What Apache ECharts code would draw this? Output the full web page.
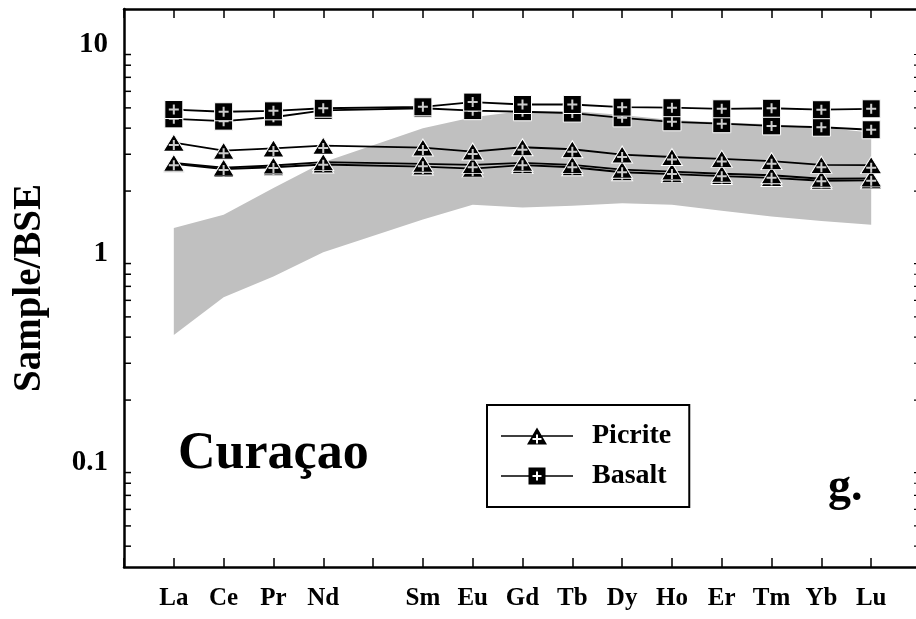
<!DOCTYPE html>
<html><head><meta charset="utf-8">
<script src="https://cdn.jsdelivr.net/npm/echarts@6/dist/echarts.min.js"></script>
<style>html,body{margin:0;padding:0;background:#fff}#c{width:916px;height:619px}</style>
</head><body><div id="c"></div>
<script>
// x categories (padding slots at both ends; Pm is an unlabeled slot)
const categories = ['', 'La','Ce','Pr','Nd','Pm','Sm','Eu','Gd','Tb','Dy','Ho','Er','Tm','Yb','Lu', ''];
const hiddenLabels = ['Pm'];
// values for La..Lu (null = Pm, not measured)
const picriteUpper = [3.41,3.12,3.20,3.30,null,3.23,3.09,3.24,3.17,2.99,2.91,2.85,2.78,2.67,2.66];
const picriteLower = [2.73,2.59,2.65,2.75,null,2.70,2.67,2.73,2.67,2.53,2.48,2.42,2.38,2.29,2.30];
const picriteLowest = [2.70,2.55,2.60,2.68,null,2.62,2.56,2.66,2.60,2.46,2.41,2.36,2.31,2.24,2.25];
const basaltUpper = [4.91,4.79,4.84,4.98,null,5.06,5.33,5.19,5.19,5.04,5.01,4.95,4.98,4.90,4.95];
const basaltLower = [4.43,4.32,4.51,4.86,null,4.98,4.85,4.79,4.72,4.48,4.29,4.20,4.10,4.04,3.93];
// grey field (upper and lower envelope)
const fieldUpper = [1.33,1.54,2.07,2.75,null,3.99,4.51,4.83,4.83,4.62,4.38,4.26,4.17,4.03,3.81];
const fieldLower = [0.41,0.62,0.78,1.02,null,1.46,1.72,1.67,1.70,1.75,1.72,1.61,1.51,1.44,1.38];
// y axis
const yMin = 0.0318, yMax = 14.86;
const minorTickValues = [0.04,0.05,0.06,0.07,0.08,0.09,0.2,0.3,0.4,0.5,0.6,0.7,0.8,0.9,2,3,4,5,6,7,8,9];

const FONT = 'Liberation Serif';
const triIcon = 'path://M0,7.75 L31.44,7.75 L36,0 L40.56,7.75 L72,7.75 L72,9.25 L41.44,9.25 L46,17 L26,17 L30.56,9.25 L0,9.25 Z M35,7 L35,10.5 L31.5,10.5 L31.5,12.5 L35,12.5 L35,16 L37,16 L37,12.5 L40.5,12.5 L40.5,10.5 L37,10.5 L37,7 Z';
const sqIcon = 'path://M0,7.75 L27.5,7.75 L27.5,0 L44.5,0 L44.5,7.75 L72,7.75 L72,9.25 L44.5,9.25 L44.5,17 L27.5,17 L27.5,9.25 L0,9.25 Z M35,4 L35,7.5 L31.5,7.5 L31.5,9.5 L35,9.5 L35,13 L37,13 L37,9.5 L40.5,9.5 L40.5,7.5 L37,7.5 L37,4 Z';
const plusPath = 'path://M4,0 L6,0 L6,4 L10,4 L10,6 L6,6 L6,10 L4,10 L4,6 L0,6 L0,4 L4,4 Z';

function pts(vals) {
  const out = [];
  vals.forEach((v, i) => { if (v != null) out.push([i + 1, v]); });
  return out;
}
function lineSeries(name, vals, kind) {
  const tri = kind === 'tri';
  return [{
    name: name, type: 'line', data: pts(vals), z: 3,
    symbol: tri ? 'triangle' : 'rect', symbolSize: tri ? [21, 17] : [18, 18],
    itemStyle: { color: '#000', borderColor: '#fff', borderWidth: 1 },
    lineStyle: { color: '#000', width: 1.8 }, showSymbol: true, connectNulls: true
  }, {
    name: name + ' marks', type: 'scatter', data: pts(vals), z: 3, silent: true,
    symbol: plusPath, symbolSize: 10, symbolOffset: tri ? [0, 2.5] : [0, 0],
    itemStyle: { color: '#fff' }
  }];
}

const chart = echarts.init(document.getElementById('c'));
const axisLine = { show: true, lineStyle: { color: '#000', width: 2.5 } };
const tickStyle = { color: '#000', width: 1.5 };

chart.setOption({
  animation: false,
  backgroundColor: '#fff',
  grid: { left: 124, top: 9, right: -5, bottom: 52, containLabel: false, outerBoundsMode: 'none' },
  xAxis: [{
    type: 'category', data: categories, boundaryGap: false, position: 'bottom',
    axisLine: axisLine,
    axisTick: { inside: true, length: 9, interval: 0, lineStyle: tickStyle },
    axisLabel: { interval: 0, margin: 19, color: '#000', fontFamily: FONT, fontWeight: 'bold', fontSize: 25,
      formatter: v => hiddenLabels.includes(v) ? '' : v },
    splitLine: { show: false }
  }, {
    type: 'category', data: categories, boundaryGap: false, position: 'top',
    axisLine: axisLine,
    axisTick: { inside: true, length: 9, interval: 0, lineStyle: tickStyle },
    axisLabel: { show: false }, splitLine: { show: false }
  }],
  yAxis: [{
    type: 'log', logBase: 10, min: yMin, max: yMax, position: 'left',
    axisLine: axisLine,
    axisTick: { inside: true, length: 9, lineStyle: tickStyle },
    axisLabel: { margin: 16, color: '#000', fontFamily: FONT, fontWeight: 'bold', fontSize: 29,
      showMinLabel: false, showMaxLabel: false,
      formatter: v => v >= 1 ? Math.round(v).toString() : String(Number(v.toPrecision(2))) },
    splitLine: { show: false },
    name: 'Sample/BSE', nameLocation: 'middle', nameGap: 75,
    nameTextStyle: { color: '#000', fontFamily: FONT, fontWeight: 'bold', fontSize: 39 }
  }, {
    type: 'log', logBase: 10, min: yMin, max: yMax, position: 'right',
    axisLine: axisLine,
    axisTick: { inside: true, length: 8, lineStyle: tickStyle },
    axisLabel: { show: false }, splitLine: { show: false }
  }],
  legend: {
    orient: 'vertical', left: 487, top: 405,
    data: [{ name: 'Picrite', icon: triIcon }, { name: 'Basalt', icon: sqIcon }],
    itemWidth: 72, itemHeight: 17, itemGap: 12,
    padding: [17, 18, 17, 14],
    borderColor: '#000', borderWidth: 2, backgroundColor: '#fff',
    itemStyle: { color: '#000', borderWidth: 0 },
    textStyle: { fontFamily: FONT, fontWeight: 'bold', fontSize: 28, color: '#000', padding: [0, 0, 0, 14] },
    selectedMode: false
  },
  graphic: [
    { type: 'text', x: 178, y: 455, style: { text: 'Curaçao', font: 'bold 52px "Liberation Serif"', fill: '#000', verticalAlign: 'middle', align: 'left' } },
    { type: 'text', x: 828, y: 488, style: { text: 'g.', font: 'bold 46px "Liberation Serif"', fill: '#000', verticalAlign: 'middle', align: 'left' } }
  ],
  series: [
    {
      name: 'field', type: 'custom', z: 1, silent: true, data: [[0, 1]],
      renderItem: function (params, api) {
        const points = [];
        fieldUpper.forEach((v, i) => { if (v != null) points.push(api.coord([i + 1, v])); });
        for (let i = fieldLower.length - 1; i >= 0; i--) {
          if (fieldLower[i] != null) points.push(api.coord([i + 1, fieldLower[i]]));
        }
        return { type: 'polygon', shape: { points: points }, style: { fill: '#c0c0c0' } };
      }
    },
    {
      name: 'minor ticks', type: 'custom', z: 5, silent: true, clip: false,
      data: minorTickValues.map(v => [0, v]),
      renderItem: function (params, api) {
        const y = api.coord([0, api.value(1)])[1];
        const cs = params.coordSys;
        return { type: 'group', children: [
          { type: 'line', shape: { x1: cs.x, y1: y, x2: cs.x + 7, y2: y }, style: { stroke: '#000', lineWidth: 1.5 } },
          { type: 'line', shape: { x1: cs.x + cs.width - 7, y1: y, x2: cs.x + cs.width, y2: y }, style: { stroke: '#000', lineWidth: 1.2 } }
        ] };
      }
    }
  ].concat(
    lineSeries('Picrite', picriteLowest, 'tri'),
    lineSeries('Picrite', picriteLower, 'tri'),
    lineSeries('Picrite', picriteUpper, 'tri'),
    lineSeries('Basalt', basaltLower, 'sq'),
    lineSeries('Basalt', basaltUpper, 'sq')
  )
});
</script>
</body></html>
